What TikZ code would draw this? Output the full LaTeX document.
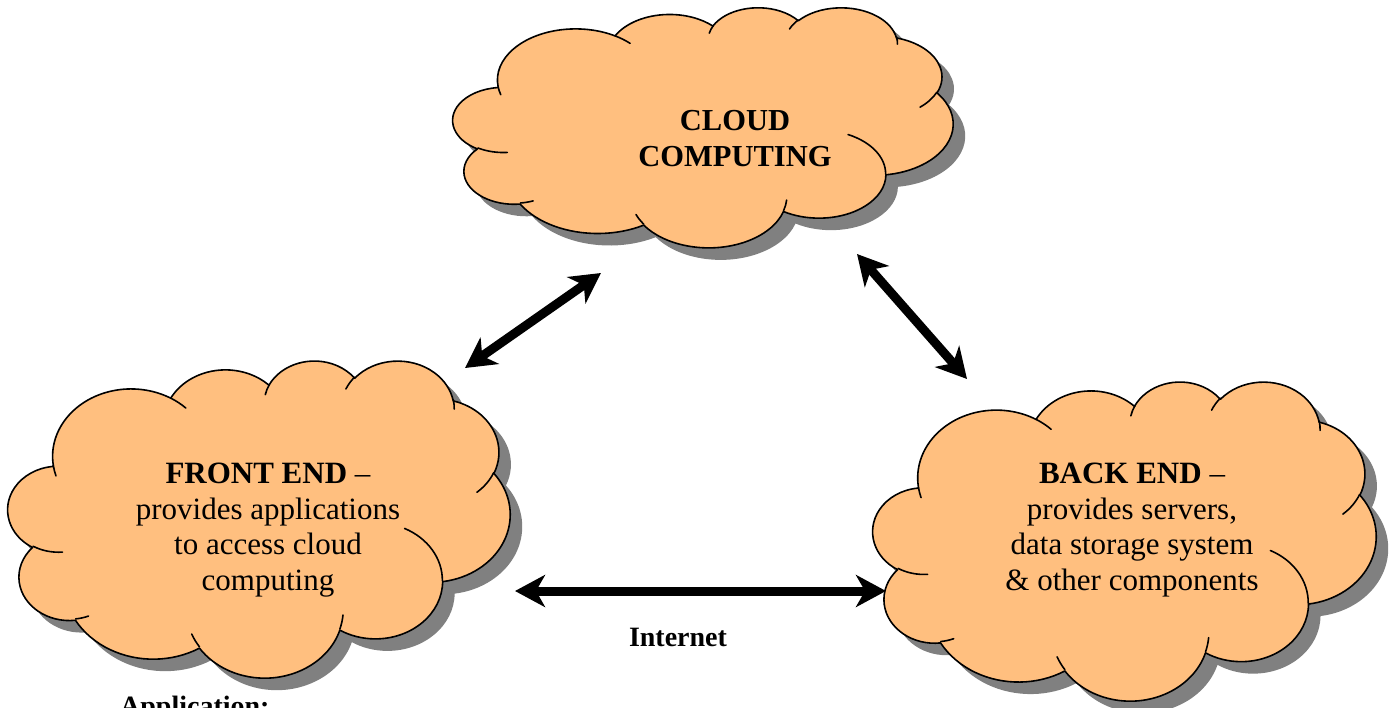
\documentclass[tikz,border=0pt]{standalone}
\usepackage{fontspec}
\setmainfont{Liberation Serif}
\usetikzlibrary{arrows.meta}
\definecolor{cloudfill}{RGB}{255,191,127}
\definecolor{shadowgray}{RGB}{128,128,128}

% elliptical arc in the style of DrawingML arcTo (visual angles)
\newcommand\carc[4]{arc[x radius=#1, y radius=#2,
  start angle={atan2((#1)*sin(#3),(#2)*cos(#3))},
  delta angle={mod(atan2((#1)*sin((#3)+(#4)),(#2)*cos((#3)+(#4)))-atan2((#1)*sin(#3),(#2)*cos(#3))+720,360)}]}

\newcommand\cloudoutline{(9.028,33.264)
  \carc{15.632}{21.273}{-190.487}{123.781}
  \carc{12.345}{16.822}{-144.102}{89.945}
  \carc{10.104}{13.762}{-145.808}{99.723}
  \carc{11.243}{15.266}{-130.986}{117.242}
  \carc{12.345}{16.836}{-78.709}{109.027}
  \carc{15.683}{21.343}{-46.267}{130.269}
  \carc{13.391}{18.211}{0.625}{114.033}
  \carc{15.630}{21.331}{22.452}{115.173}
  \carc{17.870}{24.405}{66.243}{75.711}
  \carc{10.093}{13.699}{-274.942}{146.736}
  \carc{10.058}{13.762}{-246.829}{152.519} -- cycle}

\newcommand\cloudinner{
  (10.863,60.595) \carc{10.058}{13.762}{86.742}{26.430}
  (16.037,80.785) \carc{10.093}{13.699}{73.610}{11.447}
  (38.144,90.486) \carc{15.630}{21.331}{137.624}{14.081}
  (66.729,80.442) \carc{15.630}{21.331}{6.453}{15.998}
  (79.002,53.134) \carc{13.391}{18.211}{-70.292}{70.917}
  (96.755,35.542) \carc{12.345}{16.836}{30.318}{27.752}
  (88.713,12.560) \carc{11.243}{15.266}{-13.744}{14.859}
  (67.310,9.148) \carc{11.243}{15.266}{-149.181}{18.195}
  (51.252,10.926) \carc{10.104}{13.762}{-163.494}{17.686}
  (32.407,12.019) \carc{15.632}{21.273}{-66.707}{12.319}
  (9.553,36.549) \carc{15.632}{21.273}{157.654}{11.858}}

\newcommand\drawcloud[4]{%
  \begin{scope}[shift={(#1+12,#2+12)}, xscale=#3/100, yscale=#4/100]
    \fill[shadowgray] \cloudoutline;
  \end{scope}
  \begin{scope}[shift={(#1,#2)}, xscale=#3/100, yscale=#4/100]
    \filldraw[fill=cloudfill, draw=black, line width=1.6pt, line join=round] \cloudoutline;
    \draw[black, line width=1.6pt, line cap=round] \cloudinner;
  \end{scope}}

\tikzset{
  cloudtext/.style={align=center, inner sep=0pt, font=\fontsize{31}{35.5}\selectfont},
  toptext/.style={align=center, inner sep=0pt, font=\fontsize{30.5}{36}\selectfont\bfseries},
  labeltext/.style={inner sep=0pt, font=\fontsize{28}{32}\selectfont\bfseries},
  fatarrow/.style={line width=9pt, {Stealth[length=30pt,width=32pt,inset=9pt]}-{Stealth[length=30pt,width=32pt,inset=9pt]}}
}

\begin{document}
\begin{tikzpicture}[x=1pt, y=-1pt]
  \useasboundingbox[fill=white] (0,0) rectangle (1394,707);

  \drawcloud{453}{7}{500}{240}
  \drawcloud{8}{360}{502}{317}
  \drawcloud{873}{381}{503}{319}

  % base anchor of a multi-line node = baseline of its last line
  \node[toptext, anchor=base] (cc) at (735,166.7) {CLOUD\\COMPUTING};
  \node[cloudtext, anchor=base] (fe) at (268,590) {\textbf{FRONT END} --\\provides applications\\to access cloud\\computing};
  \node[cloudtext, anchor=base] (be) at (1132,590) {\textbf{BACK END} --\\provides servers,\\data storage system\\\& other components};
  \node[labeltext, anchor=base] (inet) at (678,646.7) {Internet};
  \node[labeltext, anchor=base west] (app) at (120,715) {Application:};

  \coordinate (a1s) at (465,368);
  \coordinate (a1e) at (601,273);
  \coordinate (a2s) at (857,254);
  \coordinate (a2e) at (967,379);
  \coordinate (a3s) at (515,591);
  \coordinate (a3e) at (886,591);
  \draw[fatarrow] (a1s) -- (a1e);
  \draw[fatarrow] (a2s) -- (a2e);
  \draw[fatarrow] (a3s) -- (a3e);
\end{tikzpicture}
\end{document}
